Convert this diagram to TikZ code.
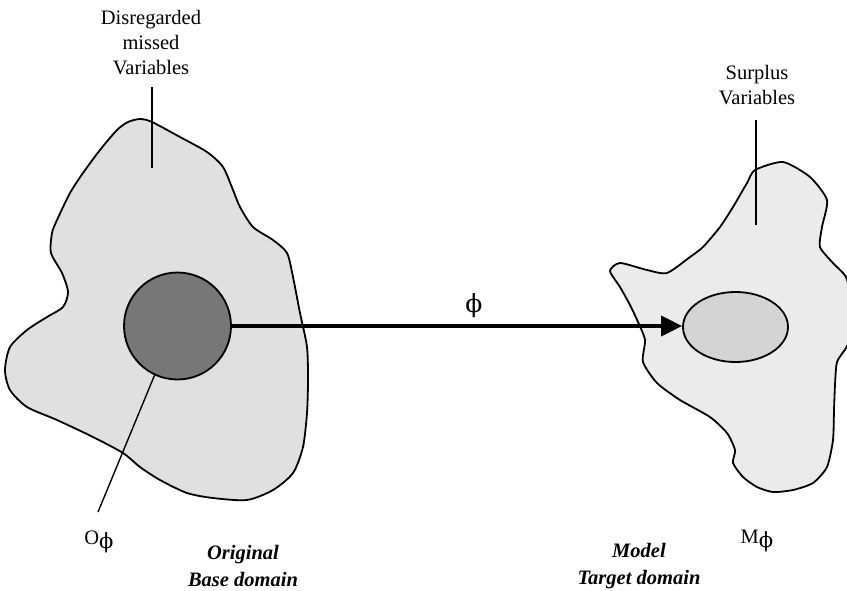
\documentclass[tikz,border=0pt]{standalone}
\usepackage{fontspec}
\setmainfont{Liberation Serif}
\newfontfamily\phifont{DejaVu Serif}
\newcommand{\uphi}{{\phifont ϕ}}
\usetikzlibrary{arrows.meta,shapes.geometric}
\definecolor{basefill}{HTML}{E0E0E0}
\definecolor{targetfill}{HTML}{EBEBEB}
\definecolor{corefill}{HTML}{777777}
\definecolor{imagefill}{HTML}{D4D4D4}
\begin{document}
\begin{tikzpicture}[x=1pt,y=-1pt,
  region/.style={draw=black,line width=1.8pt,line join=round},
  leader/.style={draw=black,line width=1.4pt},
  lbl/.style={inner sep=0pt,align=center,font=\fontsize{20.5}{25}\selectfont},
  domainlbl/.style={inner sep=0pt,align=center,font=\fontsize{20.5}{27}\selectfont\bfseries\itshape},
  maparrow/.style={line width=3.8pt,-{Triangle[length=21pt,width=20pt]}}]
\useasboundingbox (0,0) rectangle (847,590);
\begin{scope}
\clip (0,0) rectangle (847,590);
% base domain
\draw[region,fill=basefill] plot[smooth cycle,tension=0.45] coordinates {
  (140,119) (152,122) (180,137) (207,152) (223,167) (233,190) (240,207)
  (253,227) (273,240) (287,253) (293,277) (300,313) (307,347) (308,380)
  (307,413) (303,447) (293,473) (273,490) (247,500) (213,498) (187,493)
  (160,480) (140,467) (123,453) (93,437) (57,420) (27,407) (10,390)
  (5,370) (10,347) (27,330) (47,317) (63,307) (68,292) (62,273) (51,253)
  (52,233) (57,220) (70,193) (83,173) (100,150) (117,130) (128,122)};
% target domain
\draw[region,fill=targetfill] plot[smooth cycle,tension=0.4] coordinates {
  (783,162) (810,177) (827,200) (822,227) (820,247) (833,263) (846,277)
  (851,300) (851,335) (846,348) (837,362) (835,385) (834,410) (833,440)
  (827,467) (813,483) (793,490) (773,492) (757,487) (743,477) (733,463)
  (735,450) (727,433) (710,417) (680,400) (657,383) (643,362) (645,340)
  (638,322) (630,305) (620,287) (610,271) (620,263) (647,270) (667,273)
  (690,257) (703,247) (720,227) (733,207) (747,183) (755,170)};
\end{scope}
% mapped sets
\node[circle,draw=black,line width=1.8pt,fill=corefill,minimum size=107pt,inner sep=0pt] (core) at (177.5,326) {};
\node[ellipse,draw=black,line width=1.8pt,fill=imagefill,minimum width=105pt,minimum height=70pt,inner sep=0pt] (image) at (735.5,327) {};
\draw[maparrow] (core.east) -- (image.west |- core.east);
\node[inner sep=0pt,font=\fontsize{25}{25}\selectfont] (phi) at (474,306) {\uphi};
% labels
\node[lbl] (missed) at (151,43) {Disregarded\\missed\\Variables};
\coordinate (missedend) at (152,168);
\draw[leader] (152,87) -- (missedend);
\node[lbl] (surplus) at (757,85) {Surplus\\Variables};
\coordinate (surplusend) at (756,225);
\draw[leader] (756,120) -- (surplusend);
\node[lbl] (ophi) at (99,542) {O\raisebox{-4pt}{\fontsize{21}{21}\selectfont\uphi}};
\node[lbl] (mphi) at (757,541) {M\raisebox{-4pt}{\fontsize{21}{21}\selectfont\uphi}};
\draw[leader] (core.-115) -- (98,512);
\node[domainlbl] (base) at (243,566) {Original\\Base domain};
\node[domainlbl] (target) at (639,566) {Model\\Target domain};
\end{tikzpicture}
\end{document}
